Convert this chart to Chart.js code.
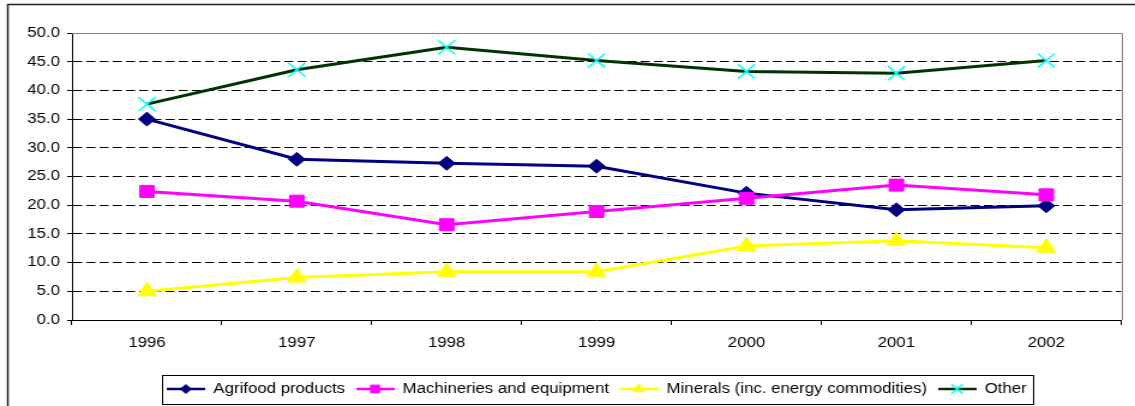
<!DOCTYPE html>
<html>
<head>
<meta charset="utf-8">
<script src="https://cdn.jsdelivr.net/npm/chart.js@4.4.1/dist/chart.umd.min.js"></script>
<style>
    html, body { margin: 0; padding: 0; background: #fff; overflow: hidden; }
    #lineChart { display: block; }
</style>
</head>
<body>
<!-- the source picture is stretched sideways, so the canvas is too -->
<canvas id="lineChart" width="946" height="406" style="width:1135px;height:406px"></canvas>
<script>
const years = ['1996', '1997', '1998', '1999', '2000', '2001', '2002'];
const seriesNames = ['Agrifood products', 'Machineries and equipment', 'Minerals (inc. energy commodities)', 'Other'];
const agrifood = [35.0, 28.0, 27.3, 26.8, 22.1, 19.2, 19.9];
const machinery = [22.4, 20.7, 16.6, 18.9, 21.2, 23.5, 21.8];
const minerals = [5.0, 7.4, 8.4, 8.4, 12.9, 13.8, 12.6];
const other = [37.6, 43.6, 47.5, 45.2, 43.3, 43.0, 45.2];
const yTicks = [0, 5, 10, 15, 20, 25, 30, 35, 40, 45, 50];

Chart.defaults.font.family = "'Liberation Sans', Arial, sans-serif";
Chart.defaults.font.size = 14;
Chart.defaults.color = '#000';

// legend sample: a short line with the marker in the middle
function legendSample(lineColor, style, fill, stroke, radius, bw) {
    const c = document.createElement('canvas');
    c.width = 32;
    c.height = 14;
    const g = c.getContext('2d');
    g.strokeStyle = lineColor;
    g.lineWidth = 2.5;
    g.beginPath();
    g.moveTo(0, 7);
    g.lineTo(32, 7);
    g.stroke();
    g.fillStyle = fill;
    g.strokeStyle = stroke;
    g.lineWidth = bw;
    Chart.helpers.drawPoint(g, { pointStyle: style, radius: radius, rotation: 0, borderWidth: bw }, 16, 7);
    return c;
}

const samples = [
    legendSample('#000080', 'rectRot', '#000080', '#000080', 4.5, 1),
    legendSample('#FF00FF', 'rect', '#FF00FF', '#FF00FF', 5.5, 1),
    legendSample('#FFFF00', 'triangle', '#FFFF00', '#FFFF00', 5.5, 1),
    legendSample('#003300', 'crossRot', '#00FFFF', '#00FFFF', 6.5, 1.5)
];

const frames = {
    id: 'frames',
    afterLayout(chart) {
        // centre the legend under the plot area, as in the source
        const lg = chart.legend;
        const a = chart.chartArea;
        const dx = (a.left + a.right) / 2 - (lg.left + lg.right) / 2;
        lg.left += dx;
        lg.right += dx;
    },
    afterDraw(chart) {
        const ctx = chart.ctx;
        const a = chart.chartArea;
        ctx.save();
        // grey plot border, top and right
        ctx.strokeStyle = '#808080';
        ctx.lineWidth = 1;
        const t = Math.round(a.top) + 0.5;
        const r = Math.round(a.right) + 0.5;
        ctx.beginPath();
        ctx.moveTo(a.left, t);
        ctx.lineTo(r, t);
        ctx.lineTo(r, a.bottom);
        ctx.stroke();
        // legend box
        const hb = chart.legend.legendHitBoxes;
        if (hb.length) {
            const first = hb[0];
            const last = hb[hb.length - 1];
            const x0 = Math.round(first.left - 4) + 0.5;
            const x1 = Math.round(last.left + last.width + 5) + 0.5;
            const y0 = Math.round(first.top + first.height / 2 - 14.5) + 0.5;
            ctx.strokeStyle = '#000';
            ctx.strokeRect(x0, y0, x1 - x0, 29);
        }
        // outer chart frame
        ctx.strokeStyle = '#222';
        ctx.lineWidth = 1.5;
        ctx.strokeRect(6.5, 4.5, chart.width + 20, chart.height + 20);
        ctx.restore();
    }
};

new Chart(document.getElementById('lineChart'), {
    type: 'line',
    data: {
        labels: years,
        datasets: [
            {
                label: seriesNames[0],
                data: agrifood,
                borderColor: '#000080',
                borderWidth: 3,
                pointStyle: 'rectRot',
                pointRadius: 7,
                pointBackgroundColor: '#000080',
                pointBorderColor: '#000080',
                pointBorderWidth: 1,
                order: 3
            },
            {
                label: seriesNames[1],
                data: machinery,
                borderColor: '#FF00FF',
                borderWidth: 3,
                pointStyle: 'rect',
                pointRadius: 8.5,
                pointBackgroundColor: '#FF00FF',
                pointBorderColor: '#FF00FF',
                pointBorderWidth: 1,
                order: 2
            },
            {
                label: seriesNames[2],
                data: minerals,
                borderColor: '#FFFF00',
                borderWidth: 3,
                pointStyle: 'triangle',
                pointRadius: 9,
                pointBackgroundColor: '#FFFF00',
                pointBorderColor: '#FFFF00',
                pointBorderWidth: 1,
                order: 1
            },
            {
                label: seriesNames[3],
                data: other,
                borderColor: '#003300',
                borderWidth: 3,
                pointStyle: 'crossRot',
                pointRadius: 10,
                pointBackgroundColor: '#00FFFF',
                pointBorderColor: '#00FFFF',
                pointBorderWidth: 1.5,
                order: 0
            }
        ]
    },
    options: {
        responsive: false,
        animation: false,
        events: [],
        layout: { padding: { top: 33, left: 0, right: 6, bottom: 0 } },
        plugins: {
            tooltip: { enabled: false },
            legend: {
                display: true,
                position: 'bottom',
                labels: {
                    usePointStyle: true,
                    pointStyleWidth: 32,
                    padding: 9,
                    color: '#000',
                    font: { size: 14 },
                    generateLabels: (chart) => chart.data.datasets.map((ds, i) => ({
                        text: ds.label,
                        pointStyle: samples[i],
                        fillStyle: ds.borderColor,
                        strokeStyle: ds.borderColor,
                        lineWidth: 0,
                        hidden: false,
                        datasetIndex: i
                    }))
                }
            }
        },
        scales: {
            x: {
                offset: true,
                afterFit: (scale) => { scale.height = 53; },
                grid: {
                    display: true,
                    offset: true,
                    drawOnChartArea: false,
                    drawTicks: true,
                    tickLength: 5,
                    color: '#000'
                },
                border: { display: true, color: '#000', width: 1 },
                ticks: { padding: 10, maxRotation: 0, color: '#000' }
            },
            y: {
                min: 0,
                max: 50,
                afterFit: (scale) => { scale.width = 60; },
                afterBuildTicks: (scale) => { scale.ticks = yTicks.map(v => ({ value: v })); },
                grid: {
                    color: (c) => (c.tick && (c.tick.value === 50 || c.tick.value === 0)) ? 'rgba(0,0,0,0)' : '#000',
                    tickColor: '#000',
                    tickLength: 4,
                    lineWidth: 1
                },
                border: { display: true, color: '#000', width: 1, dash: [7.5, 3.5] },
                ticks: {
                    padding: 6,
                    color: '#000',
                    callback: (v) => Number(v).toFixed(1)
                }
            }
        }
    },
    plugins: [frames]
});
</script>
</body>
</html>
